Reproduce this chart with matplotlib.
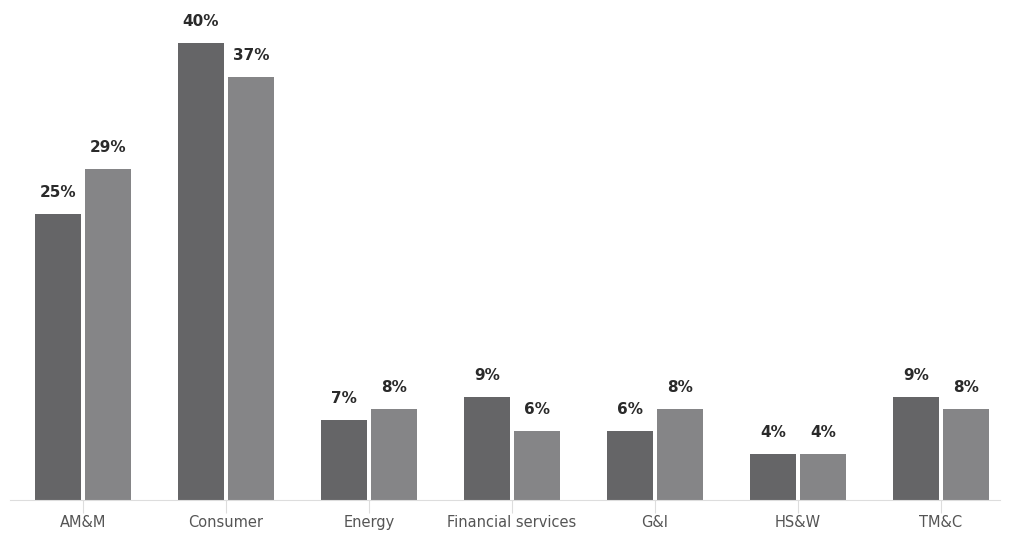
import numpy as np
import matplotlib.pyplot as plt

categories = ['AM&M', 'Consumer', 'Energy', 'Financial services', 'G&I', 'HS&W', 'TM&C']
series_a = [25, 40, 7, 9, 6, 4, 9]
series_b = [29, 37, 8, 6, 8, 4, 8]

dark = '#656567'
light = '#858587'

fig = plt.figure(figsize=(10.12, 5.33), dpi=100)
ax = fig.add_axes([10 / 1012, 1 - 500 / 533, 990 / 1012, 500 / 533])

x = np.arange(len(categories))
w = 46 / 143
gap = 4 / 143
bars_a = ax.bar(x - w / 2 - gap / 2, series_a, width=w, color=dark)
bars_b = ax.bar(x + w / 2 + gap / 2, series_b, width=w, color=light)

for bars in (bars_a, bars_b):
    for b in bars:
        ax.annotate('%d%%' % int(b.get_height()),
                    (b.get_x() + b.get_width() / 2, b.get_height()),
                    xytext=(0, 14), textcoords='offset pixels',
                    ha='center', va='bottom', fontsize=11, fontweight='bold',
                    color='#2a2a2a')

ax.set_xlim(-73 / 143, 6 + 59 / 143)
ax.set_ylim(0, 500 / 11.43)
ax.set_xticks(x)
ax.set_xticklabels(categories, fontsize=10.5, color='#555555')
ax.tick_params(axis='x', length=9, color='#dddddd', pad=2)
ax.set_yticks([])
for s in ('top', 'right', 'left'):
    ax.spines[s].set_visible(False)
ax.spines['bottom'].set_color('#dddddd')

fig.savefig('out.png', dpi=100)
